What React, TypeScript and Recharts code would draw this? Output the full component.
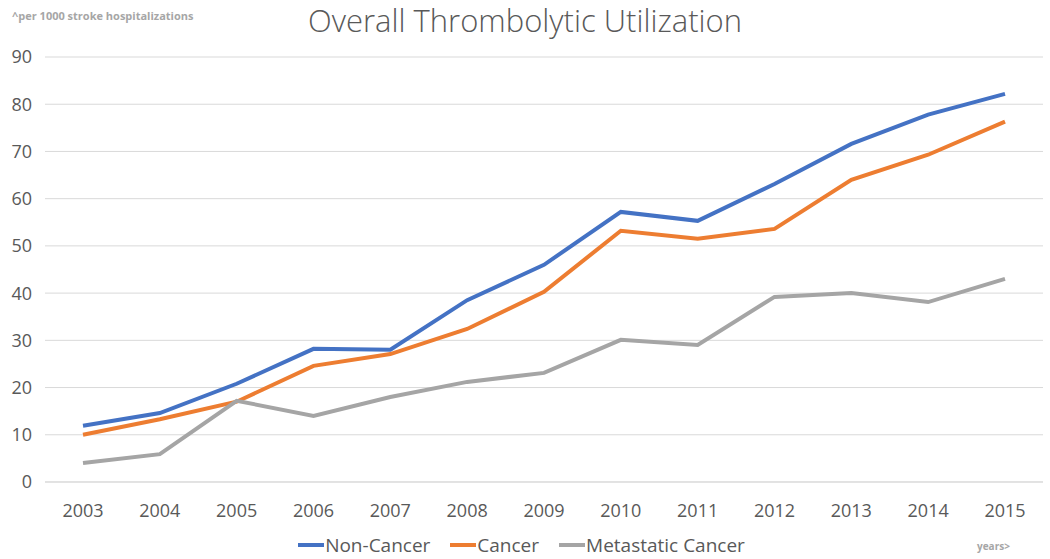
import React from "react";
import { LineChart, Line, CartesianGrid, XAxis, YAxis, Legend } from "recharts";

const years = ["2003", "2004", "2005", "2006", "2007", "2008", "2009", "2010", "2011", "2012", "2013", "2014", "2015"];
const nonCancer = [11.9, 14.6, 20.8, 28.2, 28, 38.5, 46, 57.2, 55.3, 63.1, 71.6, 77.8, 82.2];
const cancer = [10, 13.3, 17, 24.6, 27.1, 32.4, 40.3, 53.2, 51.5, 53.6, 64, 69.3, 76.3];
const metastatic = [4, 5.9, 17.2, 14, 18, 21.2, 23.1, 30.1, 29, 39.2, 40, 38.1, 43];
const yTicks = [0, 10, 20, 30, 40, 50, 60, 70, 80, 90];

const series = [
  { key: "nonCancer", name: "Non-Cancer", color: "#4472C4" },
  { key: "cancer", name: "Cancer", color: "#ED7D31" },
  { key: "metastatic", name: "Metastatic Cancer", color: "#A5A5A5" },
];

const data = years.map((year, i) => ({
  year,
  nonCancer: nonCancer[i],
  cancer: cancer[i],
  metastatic: metastatic[i],
}));

const font = "'Open Sans', 'DejaVu Sans', sans-serif";

function LegendContent() {
  return (
    <div style={{ display: "flex", justifyContent: "center", alignItems: "center", height: 24, fontFamily: font, fontSize: 19, color: "#595959" }}>
      {series.map((s) => (
        <div key={s.key} style={{ display: "flex", alignItems: "center", margin: "0 10px" }}>
          <span style={{ display: "inline-block", width: 26, height: 4, background: s.color, marginRight: 1 }} />
          <span>{s.name}</span>
        </div>
      ))}
    </div>
  );
}

export default function App() {
  return (
    <div style={{ position: "absolute", left: 0, top: 0, width: 1050, height: 559, background: "#fff" }}>
      <div style={{ position: "absolute", left: 12, top: 8, fontFamily: font, fontSize: 11, fontWeight: 700, color: "#a6a6a6" }}>
        ^per 1000 stroke hospitalizations
      </div>
      <div style={{ position: "absolute", left: 0, width: 1050, top: 1, lineHeight: "38px", textAlign: "center", fontFamily: font, fontSize: 31, fontWeight: 300, color: "#595959" }}>
        Overall Thrombolytic Utilization
      </div>
      <div style={{ position: "absolute", left: 977, top: 539, fontFamily: font, fontSize: 10, fontWeight: 700, color: "#a6a6a6", zIndex: 2 }}>
        years&gt;
      </div>
      <LineChart width={1050} height={559} data={data} margin={{ top: 57, right: 7, left: 0, bottom: 2 }}>
        <CartesianGrid vertical={false} stroke="#d9d9d9" strokeWidth={1} />
        <XAxis
          dataKey="year"
          axisLine={{ stroke: "#d9d9d9" }}
          tickLine={false}
          height={51}
          tickMargin={16}
          padding={{ left: 38, right: 38 }}
          tick={{ fontFamily: font, fontSize: 18, fill: "#595959" }}
        />
        <YAxis
          width={45}
          domain={[0, 90]}
          ticks={yTicks}
          axisLine={false}
          tickLine={false}
          tickSize={0}
          tickMargin={13}
          tick={{ fontFamily: font, fontSize: 18, fill: "#595959" }}
        />
        <Legend verticalAlign="bottom" height={24} content={() => <LegendContent />} />
        {series.map((s) => (
          <Line
            key={s.key}
            type="linear"
            dataKey={s.key}
            name={s.name}
            stroke={s.color}
            strokeWidth={4}
            dot={false}
            isAnimationActive={false}
          />
        ))}
      </LineChart>
    </div>
  );
}
